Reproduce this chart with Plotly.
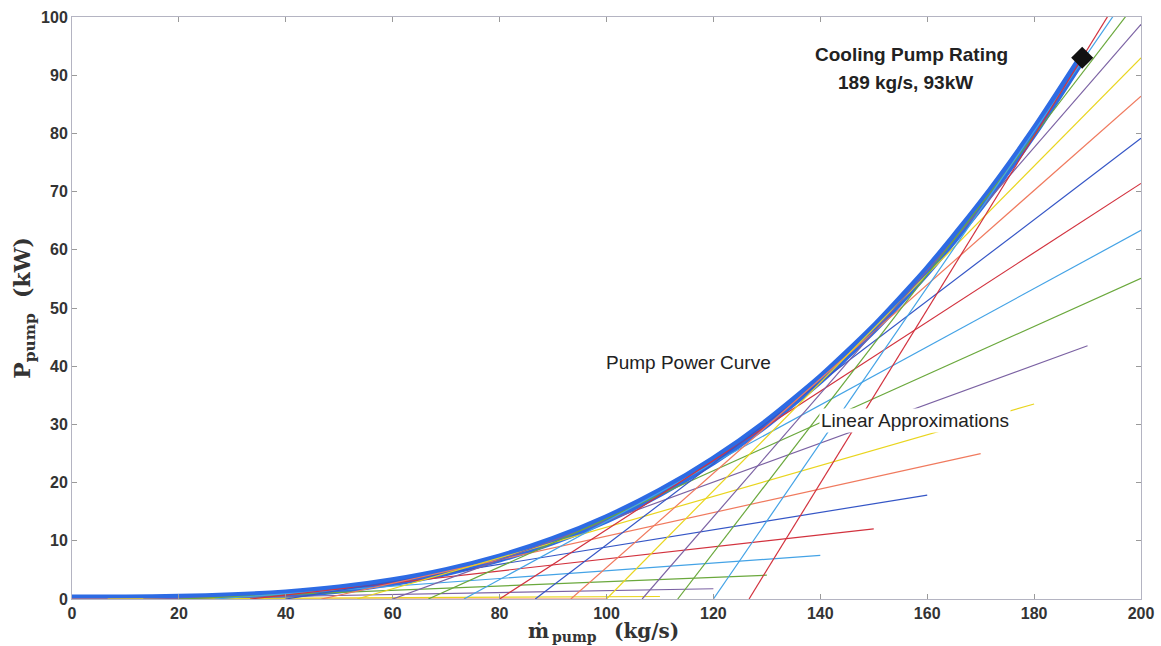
import plotly.graph_objects as go

# Pump power curve: mass flow (kg/s) vs power (kW)
curve_flow = [0, 10, 20, 30, 40, 50, 60, 70, 80, 90, 100, 110, 120, 130, 140, 150, 160, 170, 180, 189]
curve_power = [0.0, 0.014, 0.11, 0.37, 0.88, 1.72, 2.98, 4.72, 7.05, 10.04, 13.78, 18.33,
               23.80, 30.26, 37.80, 46.49, 56.42, 67.68, 80.34, 93.0]

# Rated operating point
rating_flow = [189]
rating_power = [93]

# Linear approximations (tangents): start / end of each segment
tangent_at = [0, 10, 20, 30, 40, 50, 60, 70, 80, 90, 100, 110, 120, 130, 140, 150, 160, 170, 180, 190]
seg_x0 = [0.0, 6.67, 13.33, 20.0, 26.67, 33.33, 40.0, 46.67, 53.33, 60.0, 66.67, 73.33,
          80.0, 86.67, 93.33, 100.0, 106.67, 113.33, 120.0, 126.67]
seg_y0 = [0.0] * 20
seg_x1 = [100, 110, 120, 130, 140, 150, 160, 170, 180, 190, 200, 200,
          200, 200, 200, 200, 200, 200, 200, 200]
seg_y1 = [0.0, 0.43, 1.76, 4.09, 7.49, 12.05, 17.85, 24.97, 33.50, 43.52, 55.10, 63.34,
          71.41, 79.15, 86.40, 92.98, 98.74, 103.51, 107.12, 109.40]
seg_colors = ["#f07a5e", "#e9d51e", "#7b62a3", "#6aa83c", "#44a3e6", "#d2323e", "#3556c6"]

x_ticks = list(range(0, 201, 20))
y_ticks = list(range(0, 101, 10))

fig = go.Figure()

fig.add_trace(go.Scatter(
    x=curve_flow, y=curve_power, mode="lines",
    line=dict(color="#2d6be4", width=9, shape="spline", smoothing=0.6),
    showlegend=False, hoverinfo="skip"))

for i in range(len(tangent_at)):
    fig.add_trace(go.Scatter(
        x=[seg_x0[i], seg_x1[i]], y=[seg_y0[i], seg_y1[i]], mode="lines",
        line=dict(color=seg_colors[i % len(seg_colors)], width=1.2),
        showlegend=False, hoverinfo="skip"))

fig.add_trace(go.Scatter(
    x=rating_flow, y=rating_power, mode="markers",
    marker=dict(symbol="diamond", size=17, color="#111111"),
    showlegend=False, hoverinfo="skip"))

label_font = dict(family="Liberation Sans, Arial, sans-serif", size=19, color="#222222")

fig.add_annotation(x=157.0, y=93.6, text="<b>Cooling Pump Rating</b>", showarrow=False,
                   font=label_font)
fig.add_annotation(x=156.0, y=88.8, text="<b>189 kg/s, 93kW</b>", showarrow=False,
                   font=label_font)
fig.add_annotation(x=115.3, y=40.6, text="Pump Power Curve", showarrow=False,
                   font=label_font)
fig.add_annotation(x=157.8, y=30.7, text="Linear Approximations", showarrow=False,
                   font=label_font, bgcolor="white", borderpad=1)

tick_font = dict(family="Liberation Sans, Arial, sans-serif", size=16, color="#333333",
                 weight="bold")
title_font = dict(family="DejaVu Serif, serif", size=22, color="#333333")

# x-axis title built from three pieces: symbol, subscript, unit
xt_font = dict(family="DejaVu Serif, serif", size=20, color="#333333", weight="bold")
xt_sub_font = dict(family="DejaVu Serif, serif", size=14, color="#333333", weight="bold")
fig.add_annotation(xref="paper", yref="paper", x=0.436, y=-0.055, xanchor="center",
                   yanchor="middle", showarrow=False, text="ṁ", font=xt_font)
fig.add_annotation(xref="paper", yref="paper", x=0.4696, y=-0.065, xanchor="center",
                   yanchor="middle", showarrow=False, text="pump", font=xt_sub_font)
fig.add_annotation(xref="paper", yref="paper", x=0.537, y=-0.055, xanchor="center",
                   yanchor="middle", showarrow=False, text="(kg/s)", font=xt_font)

axis_common = dict(
    showgrid=False, zeroline=False, showline=True, linecolor="#b4b4c2", linewidth=1,
    mirror="ticks", ticks="inside", ticklen=5, tickcolor="#9a9a9a", tickwidth=1,
    tickfont=tick_font, automargin=False,
)

fig.update_layout(
    width=1161, height=646,
    margin=dict(l=72, r=20, t=17, b=47),
    paper_bgcolor="white", plot_bgcolor="white",
    xaxis=dict(range=[0, 200], tickvals=x_ticks, ticktext=[str(v) for v in x_ticks],
               **axis_common),
    yaxis=dict(range=[0, 100], tickvals=y_ticks, ticktext=[str(v) for v in y_ticks],
               title=dict(text="<b>P<sub>pump</sub>  (kW)</b>", font=title_font, standoff=4),
               **axis_common),
)

fig.write_html("out.html")
